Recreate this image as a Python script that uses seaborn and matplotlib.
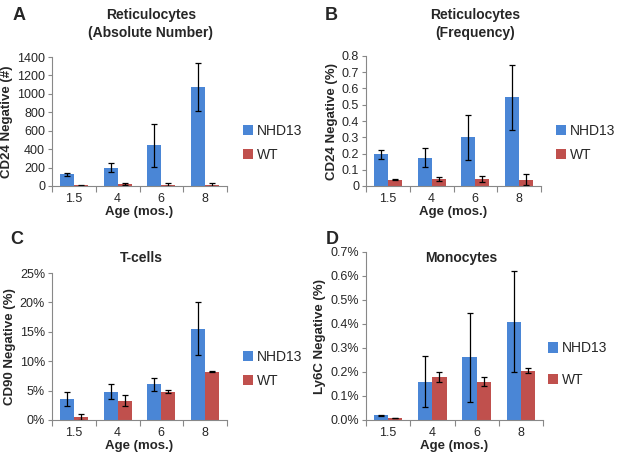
import matplotlib
matplotlib.use("Agg")
import matplotlib.pyplot as plt
import seaborn as sns
import pandas as pd
import numpy as np
from matplotlib.patches import Patch
from matplotlib.ticker import FuncFormatter, MultipleLocator

ages = ["1.5", "4", "6", "8"]
groups = ["NHD13", "WT"]

a_nhd = [125, 200, 440, 1070]
a_nhd_err = [20, 50, 235, 260]
a_wt = [10, 20, 15, 15]
a_wt_err = [5, 10, 15, 15]

b_nhd = [0.195, 0.175, 0.30, 0.545]
b_nhd_err = [0.027, 0.06, 0.14, 0.20]
b_wt = [0.040, 0.043, 0.044, 0.040]
b_wt_err = [0.002, 0.012, 0.018, 0.035]

c_nhd = [3.5, 4.8, 6.1, 15.5]
c_nhd_err = [1.2, 1.3, 1.1, 4.5]
c_wt = [0.5, 3.3, 4.8, 8.2]
c_wt_err = [0.5, 0.9, 0.25, 0.05]

d_nhd = [0.020, 0.160, 0.262, 0.410]
d_nhd_err = [0.002, 0.105, 0.185, 0.210]
d_wt = [0.008, 0.180, 0.160, 0.205]
d_wt_err = [0.001, 0.020, 0.020, 0.010]

colors = {"NHD13": "#4a86d6", "WT": "#c0504d"}

sns.set_theme(style="white")
plt.rcParams['font.family'] = ['Liberation Sans', 'DejaVu Sans']

fig = plt.figure(figsize=(6.18, 4.62), dpi=100)
W, H = 618, 462


def axes_px(l, r, t, b):
    return fig.add_axes([l / W, 1 - b / H, (r - l) / W, (b - t) / H])


def panel(ax, nhd, nhd_err, wt, wt_err, ymax, ystep, fmt, ylabel):
    df = pd.DataFrame({
        "age": ages * 2,
        "value": list(nhd) + list(wt),
        "group": ["NHD13"] * 4 + ["WT"] * 4,
    })
    errs = {"NHD13": nhd_err, "WT": wt_err}
    sns.barplot(data=df, x="age", y="value", hue="group", order=ages,
                hue_order=groups, palette=colors, width=0.64, errorbar=None,
                legend=False, ax=ax, saturation=1, linewidth=0)
    for cont, g in zip(ax.containers, groups):
        xs = [b.get_x() + b.get_width() / 2 for b in cont]
        ys = [b.get_height() for b in cont]
        ax.errorbar(xs, ys, yerr=errs[g], fmt="none", ecolor="black",
                    elinewidth=0.9, capsize=2.5, capthick=0.9)
    ax.set_xlim(-0.5, 3.5)
    ax.set_ylim(0, ymax)
    ax.yaxis.set_major_locator(MultipleLocator(ystep))
    ax.yaxis.set_major_formatter(FuncFormatter(fmt))
    ax.set_xticks(range(4))
    ax.set_xticklabels(ages)
    ax.set_xticks(np.arange(-0.5, 4, 1), minor=True)
    ax.tick_params(axis="x", which="major", length=0, labelsize=9, pad=5)
    ax.tick_params(axis="x", which="minor", length=4, width=0.8,
                   color="#888888", direction="out", bottom=True)
    ax.tick_params(axis="y", length=3, width=0.8, color="#888888",
                   direction="out", left=True, labelsize=9, pad=2)
    for s in ["top", "right"]:
        ax.spines[s].set_visible(False)
    for s in ["left", "bottom"]:
        ax.spines[s].set_color("#888888")
        ax.spines[s].set_linewidth(0.8)
    ax.set_xlabel("Age (mos.)", fontsize=9.5, fontweight="bold", labelpad=1)
    ax.set_ylabel(ylabel, fontsize=9.5, fontweight="bold", labelpad=3)


def legend(ax, x, y, spacing):
    handles = [Patch(facecolor=colors[g], edgecolor="none") for g in groups]
    ax.legend(handles, groups, loc="center left",
              bbox_to_anchor=(x / W, 1 - y / H), bbox_transform=fig.transFigure,
              frameon=False, fontsize=10, handlelength=0.75, handleheight=0.75,
              handletextpad=0.25, labelspacing=spacing, borderpad=0,
              borderaxespad=0)


axA = axes_px(52, 227, 57, 186)
panel(axA, a_nhd, a_nhd_err, a_wt, a_wt_err, 1400, 200,
      lambda v, p: f"{v:.0f}", "CD24 Negative (#)")
legend(axA, 243, 143, 0.7)

axB = axes_px(366, 541, 56, 186)
panel(axB, b_nhd, b_nhd_err, b_wt, b_wt_err, 0.8, 0.1,
      lambda v, p: "0" if abs(v) < 1e-9 else f"{v:.1f}", "CD24 Negative (%)")
legend(axB, 556, 143, 0.7)

axC = axes_px(52, 227, 273, 420)
panel(axC, c_nhd, c_nhd_err, c_wt, c_wt_err, 25, 5,
      lambda v, p: f"{v:.0f}%", "CD90 Negative (%)")
legend(axC, 243, 369, 0.7)

axD = axes_px(366, 543, 252, 420)
panel(axD, d_nhd, d_nhd_err, d_wt, d_wt_err, 0.7, 0.1,
      lambda v, p: f"{v:.1f}%", "Ly6C Negative (%)")
legend(axD, 548, 364, 1.25)

tkw = dict(fontsize=10, fontweight="bold", ha="center", va="center")
fig.text(151 / W, 1 - 15 / H, "Reticulocytes", **tkw)
fig.text(151 / W, 1 - 33 / H, "(Absolute Number)", **tkw)
fig.text(475 / W, 1 - 15 / H, "Reticulocytes", **tkw)
fig.text(475 / W, 1 - 33 / H, "(Frequency)", **tkw)
fig.text(141 / W, 1 - 258 / H, "T-cells", **tkw)
fig.text(461 / W, 1 - 258 / H, "Monocytes", **tkw)

lkw = dict(fontsize=13, fontweight="bold", ha="center", va="center")
fig.text(19 / W, 1 - 15 / H, "A", **lkw)
fig.text(331 / W, 1 - 15 / H, "B", **lkw)
fig.text(17 / W, 1 - 240 / H, "C", **lkw)
fig.text(332 / W, 1 - 240 / H, "D", **lkw)

fig.savefig("out.png", dpi=100)
